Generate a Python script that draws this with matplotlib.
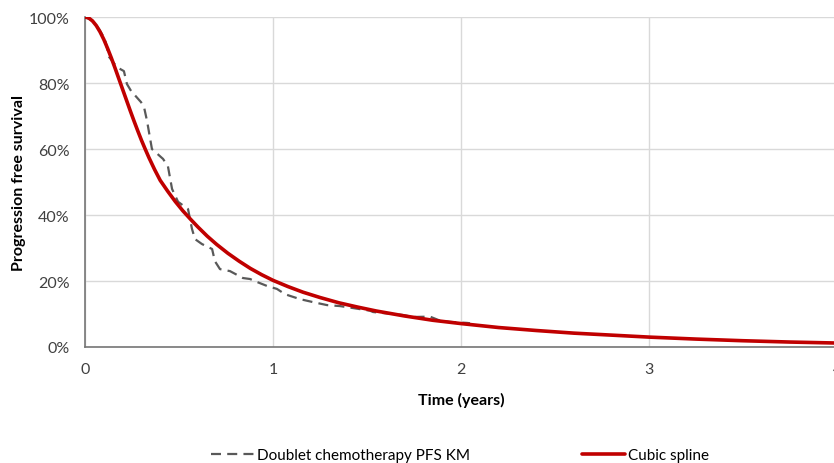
import matplotlib
matplotlib.use("Agg")
import matplotlib.pyplot as plt
from matplotlib.ticker import PercentFormatter

# Kaplan-Meier estimate
km_time = [0.0, 0.037, 0.074, 0.106, 0.128, 0.170, 0.207, 0.223, 0.245, 0.298,
           0.314, 0.330, 0.356, 0.415, 0.441, 0.463, 0.495, 0.548, 0.569, 0.585,
           0.622, 0.676, 0.691, 0.718, 0.771, 0.840, 0.878, 0.915, 0.968, 1.021,
           1.064, 1.090, 1.144, 1.213, 1.287, 1.356, 1.426, 1.516, 1.532, 1.691,
           1.745, 1.835, 1.888, 1.941, 2.032, 2.048]
km_surv = [1.0, 0.99, 0.964, 0.933, 0.879, 0.848, 0.836, 0.797, 0.776, 0.742,
           0.727, 0.685, 0.60, 0.57, 0.548, 0.479, 0.44, 0.418, 0.358, 0.327,
           0.312, 0.297, 0.26, 0.236, 0.23, 0.209, 0.206, 0.197, 0.185, 0.176,
           0.16, 0.155, 0.145, 0.136, 0.127, 0.124, 0.118, 0.11, 0.106, 0.097,
           0.091, 0.092, 0.08, 0.076, 0.073, 0.072]

# cubic spline fit
sp_time = [0.0, 0.02, 0.04, 0.06, 0.08, 0.10, 0.12, 0.14, 0.16, 0.18,
           0.20, 0.22, 0.24, 0.26, 0.28, 0.30, 0.32, 0.34, 0.37, 0.40,
           0.44, 0.48, 0.52, 0.56, 0.60, 0.65, 0.70, 0.76, 0.82, 0.88,
           0.94, 1.0, 1.08, 1.16, 1.25, 1.35, 1.45, 1.55, 1.7, 1.85,
           2.0, 2.2, 2.4, 2.6, 2.8, 3.0, 3.25, 3.5, 3.75, 4.0]
sp_surv = [1.0, 0.997, 0.988, 0.974, 0.955, 0.932, 0.905, 0.876, 0.845, 0.813,
           0.781, 0.749, 0.717, 0.686, 0.656, 0.627, 0.600, 0.574, 0.538, 0.505,
           0.472, 0.441, 0.413, 0.388, 0.364, 0.336, 0.311, 0.284, 0.260, 0.238,
           0.219, 0.202, 0.183, 0.166, 0.150, 0.134, 0.121, 0.109, 0.094, 0.081,
           0.071, 0.059, 0.050, 0.042, 0.036, 0.030, 0.024, 0.019, 0.015, 0.012]

x_ticks = [0, 1, 2, 3, 4]
y_ticks = [0, 0.2, 0.4, 0.6, 0.8, 1.0]

plt.rcParams['font.family'] = ['Lato', 'DejaVu Sans']
plt.rcParams['font.size'] = 11.5

fig = plt.figure(figsize=(8.34, 4.64), dpi=100)
ax = fig.add_axes([85 / 834, 116 / 464, 752 / 834, 330 / 464])

km_line, = ax.plot(km_time, km_surv, color='#595959', lw=1.6,
                   linestyle=(0, (4.5, 2.8)), label='Doublet chemotherapy PFS KM', zorder=3)
sp_line, = ax.plot(sp_time, sp_surv, color='#C00000', lw=2.6,
                   label='Cubic spline', zorder=4, solid_capstyle='round')

ax.set_xlim(0, 4)
ax.set_ylim(0, 1.0)
ax.set_xticks(x_ticks)
ax.set_yticks(y_ticks)
ax.yaxis.set_major_formatter(PercentFormatter(1.0, decimals=0))
ax.grid(True, color='#d9d9d9', lw=1)
ax.set_axisbelow(True)
for s in ['top', 'right']:
    ax.spines[s].set_visible(False)
for s in ['left', 'bottom']:
    ax.spines[s].set_color('#767676')
    ax.spines[s].set_linewidth(1.2)
ax.tick_params(length=0, colors='#404040', labelsize=11.5)
ax.tick_params(axis='x', pad=11)
ax.tick_params(axis='y', pad=11)

ax.set_xlabel('Time (years)', fontweight='bold', fontsize=11.5, labelpad=11)
ax.set_ylabel('Progression free survival', fontweight='bold', fontsize=11.5, labelpad=2)

fig.legend(handles=[km_line, sp_line], loc='center', bbox_to_anchor=(460 / 834, 1 - 456 / 464),
           ncol=2, frameon=False, handlelength=2.8, handletextpad=0.2,
           columnspacing=7.3, fontsize=11)

fig.savefig('out.png', dpi=100)
